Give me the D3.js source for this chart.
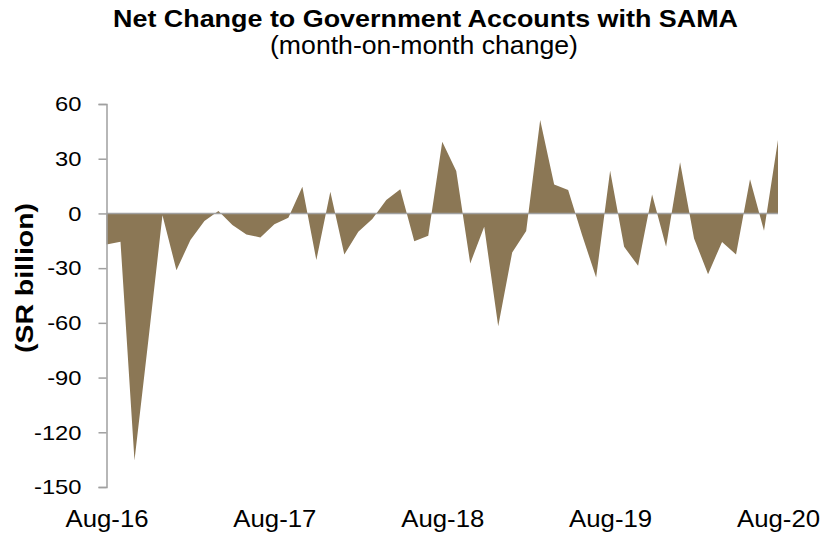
<!DOCTYPE html>
<html>
<head>
<meta charset="utf-8">
<script src="https://cdn.jsdelivr.net/npm/d3@7"></script>
<style>
  html, body { margin: 0; padding: 0; background: #fff; }
  svg { display: block; font-family: "Liberation Sans", Arial, sans-serif; }
</style>
</head>
<body>
<svg id="chart" width="828" height="535"></svg>
<script>
const months = ["Aug-16","Sep-16","Oct-16","Nov-16","Dec-16","Jan-17","Feb-17","Mar-17","Apr-17","May-17","Jun-17","Jul-17",
  "Aug-17","Sep-17","Oct-17","Nov-17","Dec-17","Jan-18","Feb-18","Mar-18","Apr-18","May-18","Jun-18","Jul-18",
  "Aug-18","Sep-18","Oct-18","Nov-18","Dec-18","Jan-19","Feb-19","Mar-19","Apr-19","May-19","Jun-19","Jul-19",
  "Aug-19","Sep-19","Oct-19","Nov-19","Dec-19","Jan-20","Feb-20","Mar-20","Apr-20","May-20","Jun-20","Jul-20","Aug-20"];
const values = [-17.0,-15.5,-135.5,-69,-1,-31.1,-14.6,-4.2,1.3,-6.4,-11.5,-13.2,
  -6.0,-2.4,14.6,-25.6,11.9,-22.5,-10.1,-3,7.3,13.2,-15.2,-12.3,
  39.3,23.2,-27.4,-7.3,-61.8,-21.4,-9.7,51.2,15.9,12.8,-12,-35.1,
  23.4,-18.3,-28.7,10.4,-18.3,28.0,-13.7,-33.3,-15.6,-22.5,18.7,-9.5,40.2];
const yTicks = [60,30,0,-30,-60,-90,-120,-150];
const xLabels = ["Aug-16","Aug-17","Aug-18","Aug-19","Aug-20"];

const svg = d3.select("#chart");
const pL = 106.5, pR = 778, pT = 104, pB = 487;

const x = d3.scalePoint().domain(months).range([pL, pR]);
const y = d3.scaleLinear().domain([-150, 60]).range([pB, pT]);

function stretch(sel, k) {
  sel.each(function () {
    const w = this.getComputedTextLength();
    d3.select(this).attr("textLength", w * k).attr("lengthAdjust", "spacingAndGlyphs");
  });
}

// title
svg.append("text").attr("x", 425.5).attr("y", 27).attr("text-anchor", "middle")
  .attr("font-weight", "bold").attr("font-size", 24).attr("fill", "#000")
  .attr("textLength", 625).attr("lengthAdjust", "spacingAndGlyphs")
  .text("Net Change to Government Accounts with SAMA");
svg.append("text").attr("x", 424).attr("y", 54).attr("text-anchor", "middle")
  .attr("font-size", 25).attr("fill", "#000")
  .attr("textLength", 308).attr("lengthAdjust", "spacingAndGlyphs")
  .text("(month-on-month change)");

// area
const area = d3.area().x((d, i) => x(months[i])).y0(y(0)).y1(d => y(d));
svg.append("path").datum(values).attr("d", area).attr("fill", "#8B7755");

// zero line
svg.append("line").attr("x1", pL).attr("x2", pR).attr("y1", y(0)).attr("y2", y(0))
  .attr("stroke", "#A0A0A0").attr("stroke-width", 1.5);

// y axis
const yAxis = d3.axisLeft(y).tickValues(yTicks).tickSize(8).tickPadding(0)
  .tickFormat(d => String(d));
const ga = svg.append("g").attr("transform", `translate(${pL},0)`).call(yAxis);
ga.select(".domain").attr("stroke", "#A0A0A0").attr("stroke-width", 1.5);
ga.selectAll(".tick line").attr("stroke", "#A0A0A0").attr("stroke-width", 1.5);
ga.selectAll(".tick text").attr("font-size", 21).attr("fill", "#000")
  .attr("font-family", "Liberation Sans, Arial, sans-serif").attr("x", -25);
stretch(ga.selectAll(".tick text"), 1.13);

// x labels
const xAxis = d3.axisBottom(x).tickValues(xLabels).tickSize(0).tickPadding(0);
const gx = svg.append("g").attr("transform", `translate(0,527)`).call(xAxis);
gx.select(".domain").remove();
gx.selectAll(".tick text").attr("font-size", 23).attr("fill", "#000").attr("dy", 0).attr("y", 0)
  .attr("font-family", "Liberation Sans, Arial, sans-serif");
stretch(gx.selectAll(".tick text"), 1.12);

// y title
svg.append("text").attr("transform", "translate(33,278) rotate(-90)")
  .attr("text-anchor", "middle").attr("font-weight", "bold").attr("font-size", 24)
  .attr("textLength", 150).attr("lengthAdjust", "spacingAndGlyphs")
  .attr("fill", "#000").text("(SR billion)");
</script>
</body>
</html>
